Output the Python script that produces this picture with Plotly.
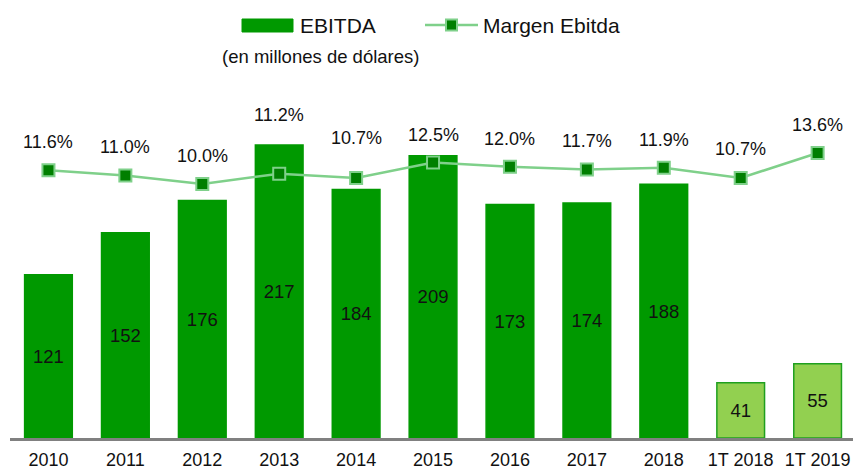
import plotly.graph_objects as go

categories = ["2010", "2011", "2012", "2013", "2014", "2015", "2016", "2017", "2018", "1T 2018", "1T 2019"]
ebitda = [121, 152, 176, 217, 184, 209, 173, 174, 188, 41, 55]
margen = [11.6, 11.0, 10.0, 11.2, 10.7, 12.5, 12.0, 11.7, 11.9, 10.7, 13.6]
margen_labels = ["11.6%", "11.0%", "10.0%", "11.2%", "10.7%", "12.5%", "12.0%", "11.7%", "11.9%", "10.7%", "13.6%"]
# vertical pixel offsets of the percentage labels above their markers (styling)
label_shift = [28, 28, 28, 59, 40, 28, 28, 28, 28, 29, 28]

FONT = "Liberation Sans, Arial, sans-serif"
annual_color = "#009900"
quarter_color = "#92D050"
line_color = "#7FD08A"
marker_color = "#007F00"
bar_colors = [quarter_color if c.startswith("1T") else annual_color for c in categories]
bar_lines = ["#1F9F1F" if c.startswith("1T") else annual_color for c in categories]

W, H = 853, 468
ML, MR, MT, MB = 10, 0, 90, 30
PW, PH = W - ML - MR, H - MT - MB


def px(x):
    return (x - ML) / PW


def py(y):
    return (H - MB - y) / PH


fig = go.Figure()
fig.add_trace(go.Bar(
    x=categories, y=ebitda, name="EBITDA",
    marker=dict(color=bar_colors, line=dict(color=bar_lines, width=1.5)),
    text=[str(v) for v in ebitda], textposition="inside", insidetextanchor="middle",
    textfont=dict(family=FONT, size=18.5, color="#111111"),
    width=0.62, showlegend=False, hoverinfo="skip",
))
fig.add_trace(go.Scatter(
    x=categories, y=margen, name="Margen Ebitda", yaxis="y2", mode="lines+markers",
    line=dict(color=line_color, width=2.5),
    marker=dict(symbol="square", size=12, color=marker_color, line=dict(color=line_color, width=2)),
    showlegend=False, hoverinfo="skip",
))

for i, (v, t, s) in enumerate(zip(margen, margen_labels, label_shift)):
    fig.add_annotation(x=i, y=v, xref="x", yref="y2", text=t, showarrow=False, yshift=s,
                       font=dict(family=FONT, size=18, color="#111111"))

# subtitle
fig.add_annotation(x=px(320), y=py(57), xref="paper", yref="paper", text="(en millones de dólares)",
                   showarrow=False, xanchor="center", yanchor="middle",
                   font=dict(family=FONT, size=18.5, color="#111111"))

# custom legend
fig.add_shape(type="rect", xref="paper", yref="paper", x0=px(242), x1=px(293), y0=py(32), y1=py(19),
              fillcolor=annual_color, line=dict(color=annual_color, width=1))
fig.add_annotation(x=px(298), y=py(25), xref="paper", yref="paper", text="EBITDA", showarrow=False,
                   xanchor="left", yanchor="middle", font=dict(family=FONT, size=21, color="#111111"))
fig.add_shape(type="line", xref="paper", yref="paper", x0=px(425), x1=px(478), y0=py(25), y1=py(25),
              line=dict(color=line_color, width=2.5))
fig.add_shape(type="rect", xref="paper", yref="paper", x0=px(446), x1=px(457), y0=py(30.5), y1=py(19.5),
              fillcolor=marker_color, line=dict(color=line_color, width=2))
fig.add_annotation(x=px(481), y=py(25), xref="paper", yref="paper", text="Margen Ebitda", showarrow=False,
                   xanchor="left", yanchor="middle", font=dict(family=FONT, size=21, color="#111111"))

fig.update_layout(
    width=W, height=H,
    margin=dict(l=ML, r=MR, t=MT, b=MB),
    paper_bgcolor="white", plot_bgcolor="white",
    font=dict(family=FONT, color="#111111"),
    showlegend=False,
    hovermode=False,
    xaxis=dict(type="category", range=[-0.5, len(categories) - 0.54], showgrid=False, showline=True,
               linecolor="#808080", linewidth=3, ticklabelstandoff=3, automargin=False,
               tickfont=dict(family=FONT, size=18, color="#111111"), ticks=""),
    yaxis=dict(range=[0, (H - MT - MB) / 1.35], visible=False, showgrid=False, automargin=False),
    yaxis2=dict(range=[(270 - (H - MB)) / 8.6, (270 - MT) / 8.6], overlaying="y", visible=False,
                showgrid=False, automargin=False),
)
fig.write_html("out.html", config={"displayModeBar": False},
               post_script="document.body.style.margin='0px';document.body.style.overflow='hidden';")
